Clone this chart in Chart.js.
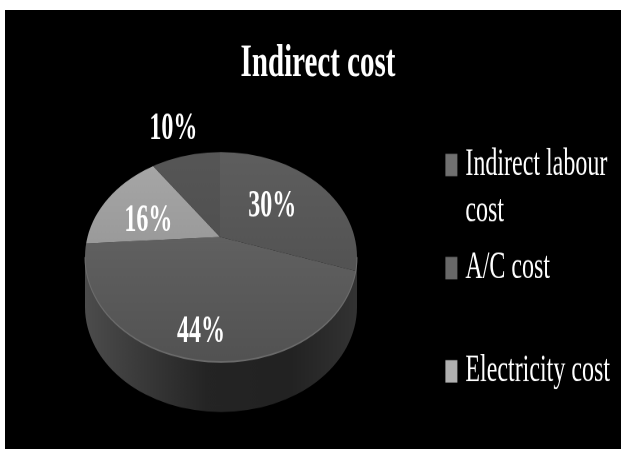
<!DOCTYPE html>
<html>
<head>
<meta charset="utf-8">
<script src="https://cdn.jsdelivr.net/npm/chart.js@4"></script>
<style>
  html, body { margin: 0; background: #fff; overflow: hidden; }
  #backdrop { position: absolute; left: 5px; top: 10px; width: 616px; height: 439px; background: #000; }
  /* the source picture is stretched vertically, so the whole canvas is too */
  #stage { position: absolute; left: 0; top: 0; width: 621px; height: 281px; transform-origin: 0 0; transform: scaleY(1.598); }
</style>
</head>
<body>
<div id="backdrop"></div>
<div id="stage"><canvas id="costChart" width="621" height="281"></canvas></div>
<script>
const STRETCH = 1.598;

const titleText = 'Indirect cost';
const categories = ['Indirect labour cost', 'A/C cost', 'Electricity cost', ''];
const legendLines = [['Indirect labour', 'cost'], ['A/C cost', ''], ['Electricity cost', '']];
const costShares = [30, 44, 16, 10];
const sliceTop = ['#5e5e5e', '#6a6a6a', '#a8a8a8', '#565656'];
const sliceBottom = ['#4a4a4a', '#525252', '#888888', '#484848'];
const legendColors = ['#707070', '#686868', '#b0b0b0'];

/* pie geometry, page pixels */
const pivot = { x: 220, y: 237 };
const rim = { x: 221, y: 257, rx: 136, ry: 105 };
const wallDepth = 50;
const tilt = 0.77;
const labelRadii = [67, 120, 77, 151];
const labelNudge = [[-2, 0], [-4, 3], [-2, 9], [0, 3]];

function sliceFill(c) {
  const area = c.chart.chartArea;
  if (!area) return sliceBottom[c.dataIndex];
  const mid = (area.top + area.bottom) / 2;
  const g = c.chart.ctx.createLinearGradient(0, mid - 110, 0, mid + 164);
  g.addColorStop(0, sliceTop[c.dataIndex]);
  g.addColorStop(1, sliceBottom[c.dataIndex]);
  return g;
}

const pie3d = {
  id: 'pie3d',
  beforeDatasetsDraw(chart) {
    const ctx = chart.ctx;
    const arc = chart.getDatasetMeta(0).data[0];

    // side wall
    const wall = ctx.createLinearGradient(rim.x - rim.rx, 0, rim.x + rim.rx, 0);
    wall.addColorStop(0, '#4c4c4c');
    wall.addColorStop(0.45, '#242424');
    wall.addColorStop(0.75, '#222222');
    wall.addColorStop(1, '#333333');
    ctx.save();
    ctx.beginPath();
    ctx.ellipse(rim.x, rim.y / STRETCH, rim.rx, rim.ry / STRETCH, 0, 0, Math.PI, false);
    ctx.ellipse(rim.x, (rim.y + wallDepth) / STRETCH, rim.rx, rim.ry / STRETCH, 0, Math.PI, 0, true);
    ctx.closePath();
    ctx.fillStyle = wall;
    ctx.fill();
    ctx.restore();

    // top face: the slices are clipped to the rim and squashed about the pivot
    ctx.save();
    ctx.beginPath();
    ctx.ellipse(rim.x, rim.y / STRETCH, rim.rx, rim.ry / STRETCH, 0, 0, Math.PI * 2);
    ctx.clip();
    ctx.translate(pivot.x, pivot.y / STRETCH);
    ctx.scale(1, tilt / STRETCH);
    ctx.translate(-arc.x, -arc.y);
  },
  afterDatasetsDraw(chart) {
    const ctx = chart.ctx;
    ctx.restore();

    // faint light edge on the front of the rim
    ctx.save();
    ctx.beginPath();
    ctx.ellipse(rim.x, rim.y / STRETCH, rim.rx, rim.ry / STRETCH, 0, 0, Math.PI, false);
    ctx.strokeStyle = '#6c6c6c';
    ctx.lineWidth = 1;
    ctx.stroke();
    ctx.restore();

    // percent labels
    ctx.save();
    ctx.font = 'bold 24px "Liberation Serif"';
    ctx.fillStyle = '#fff';
    ctx.textAlign = 'center';
    ctx.textBaseline = 'middle';
    chart.getDatasetMeta(0).data.forEach((el, i) => {
      const mid = (el.startAngle + el.endAngle) / 2;
      const x = pivot.x + Math.cos(mid) * labelRadii[i] + labelNudge[i][0];
      const y = pivot.y + Math.sin(mid) * labelRadii[i] * tilt + labelNudge[i][1];
      ctx.fillText(costShares[i] + '%', x, y / STRETCH);
    });
    ctx.restore();
  }
};

new Chart(document.getElementById('costChart'), {
  type: 'pie',
  data: {
    labels: categories,
    datasets: [{
      data: costShares,
      backgroundColor: sliceFill,
      borderWidth: 0,
      radius: 175
    }]
  },
  options: {
    responsive: false,
    animation: false,
    devicePixelRatio: 2,
    events: [],
    layout: { padding: { left: 16, top: 22.5, right: 1, bottom: -4 } },
    plugins: {
      tooltip: { enabled: false },
      title: {
        display: true,
        text: titleText,
        color: '#fff',
        font: { family: '"Liberation Serif"', size: 29, weight: 'bold' },
        padding: { top: 0, bottom: 4 }
      },
      legend: {
        position: 'right',
        align: 'end',
        labels: {
          color: '#fff',
          font: { family: '"Liberation Serif"', size: 24 },
          boxWidth: 4,
          boxHeight: 6,
          padding: 7,
          generateLabels: () => legendLines.map((lines, i) => ({
            text: lines,
            fillStyle: legendColors[i],
            strokeStyle: legendColors[i],
            lineWidth: 8,
            fontColor: '#fff',
            index: i
          }))
        }
      }
    }
  },
  plugins: [pie3d]
});
</script>
</body>
</html>
